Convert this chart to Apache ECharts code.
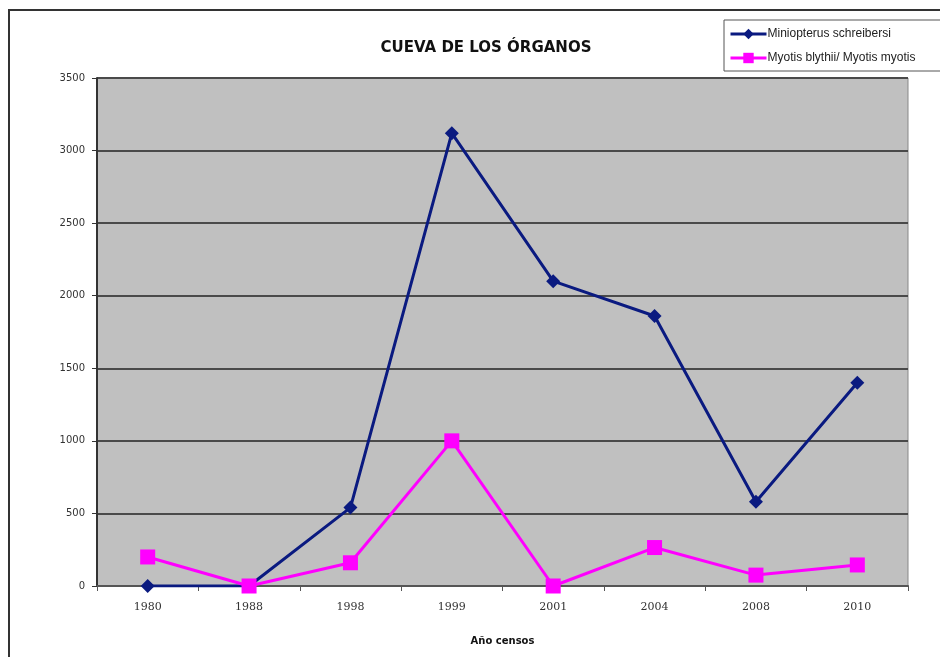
<!DOCTYPE html>
<html>
<head>
<meta charset="utf-8">
<script src="https://cdn.jsdelivr.net/npm/echarts@6/dist/echarts.min.js"></script>
<style>
    html, body {margin: 0; padding: 0; background: #fff;}
    #chartDiv {width: 940px; height: 657px;}
</style>
</head>
<body>
<div id="chartDiv"></div>
<script>
    var years = ['1980', '1988', '1998', '1999', '2001', '2004', '2008', '2010'];
    var miniopterus = [0, 0, 540, 3120, 2100, 1860, 580, 1400];
    var myotis = [200, 0, 160, 1000, 0, 265, 75, 145];
    var yTicks = [0, 500, 1000, 1500, 2000, 2500, 3000, 3500];

    var chart = echarts.init(document.getElementById('chartDiv'));
    var option = {
        backgroundColor: '#fff',
        animation: false,
        title: {
            text: 'CUEVA DE LOS ÓRGANOS',
            left: 481,
            top: 36,
            textAlign: 'center',
            textStyle: {fontFamily: 'DejaVu Sans', fontWeight: 'bold', fontSize: 15, color: '#111'}
        },
        graphic: [{
            type: 'rect',
            shape: {x: 9, y: 10, width: 945, height: 660},
            style: {fill: 'none', stroke: '#333', lineWidth: 2}
        }],
        legend: {
            orient: 'vertical',
            left: 724,
            top: 20,
            padding: [8, 30, 7, 5],
            itemGap: 12,
            itemWidth: 36,
            itemHeight: 13,
            borderColor: '#555',
            borderWidth: 1,
            backgroundColor: '#fff',
            lineStyle: {width: 3},
            textStyle: {fontFamily: 'Liberation Sans', fontSize: 12, color: '#222', padding: [0, 0, 0, -4]},
            data: ['Miniopterus schreibersi', 'Myotis blythii/ Myotis myotis']
        },
        grid: {left: 97, right: 32, top: 78, bottom: 71, show: true, backgroundColor: '#c0c0c0', borderColor: '#888', borderWidth: 1},
        xAxis: {
            type: 'category',
            data: years,
            boundaryGap: true,
            name: 'Año censos',
            nameLocation: 'middle',
            nameGap: 50,
            nameTextStyle: {fontFamily: 'DejaVu Sans', fontWeight: 'bold', fontSize: 10, color: '#111'},
            axisLine: {lineStyle: {color: '#555', width: 2}},
            axisTick: {show: true, length: 5, lineStyle: {color: '#555'}},
            axisLabel: {fontFamily: 'DejaVu Serif', fontSize: 11, color: '#333', margin: 16}
        },
        yAxis: {
            type: 'value',
            min: 0,
            max: 3500,
            interval: 500,
            axisLine: {show: true, lineStyle: {color: '#333', width: 2}},
            axisTick: {show: true, length: 5, lineStyle: {color: '#333'}},
            axisLabel: {fontFamily: 'DejaVu Sans', fontSize: 10, color: '#333', margin: 12,
                formatter: function (v) { return yTicks.indexOf(v) >= 0 ? String(v) : ''; }},
            splitLine: {show: true, lineStyle: {color: '#4a4a4a', width: 2}}
        },
        series: [
            {
                name: 'Miniopterus schreibersi',
                type: 'line',
                data: miniopterus,
                symbol: 'diamond',
                symbolSize: 14,
                color: '#0a1a80',
                lineStyle: {width: 3, color: '#0a1a80'},
                itemStyle: {color: '#0a1a80'},
                z: 2
            },
            {
                name: 'Myotis blythii/ Myotis myotis',
                type: 'line',
                data: myotis,
                symbol: 'rect',
                symbolSize: 15,
                color: '#ff00ff',
                lineStyle: {width: 3, color: '#ff00ff'},
                itemStyle: {color: '#ff00ff'},
                z: 3
            }
        ]
    };
    chart.setOption(option);
</script>
</body>
</html>
